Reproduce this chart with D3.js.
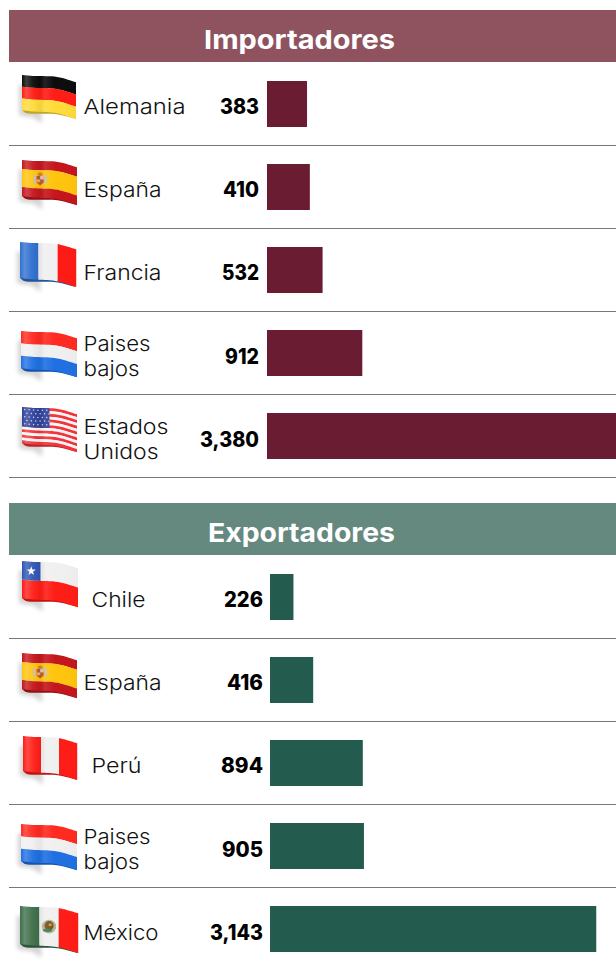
<!DOCTYPE html>
<html><head><meta charset="utf-8">
<script src="https://cdn.jsdelivr.net/npm/d3@7"></script>
<style>html,body{margin:0;padding:0;background:#fff}svg{display:block}</style>
</head><body><div id="c"></div>
<script>
// ---- data ----
const importTitle = "Importadores";
const importCountries = [["Alemania"],["España"],["Francia"],["Paises","bajos"],["Estados","Unidos"]];
const importValues = [383,410,532,912,3380];
const importLabels = ["383","410","532","912","3,380"];
const importFlags = ["de","es","fr","nl","us"];

const exportTitle = "Exportadores";
const exportCountries = [["Chile"],["España"],["Perú"],["Paises","bajos"],["México"]];
const exportValues = [226,416,894,905,3143];
const exportLabels = ["226","416","894","905","3,143"];
const exportFlags = ["cl","es","pe","nl","mx"];

// ---- layout ----
const W=616,H=965,LEFT=9,HDR=52,STEP=83,BARH=46,BAROFF=19;
const FONT="Inter, 'Open Sans', sans-serif";
// rendered widths of the strings in the reference's wide typeface
const textWidths={"Importadores":191,"Exportadores":187,"Alemania":102,"España":78,"Francia":78,"Paises":67,"bajos":56,
  "Estados":85,"Unidos":75,"Chile":54,"Perú":50,"México":75,
  "383":39,"410":36,"532":37,"912":34,"3,380":59,"226":39,"416":36,"894":42,"905":41,"3,143":53};
const importLayout={top:10,color:"#8f5360",bar:"#691c32",x0:267,k:.1045,valueX:259,labelX:[83.5,83.5,83.5,83.5,83.5],valueDy:[0,0,0,1,1],
  flagBox:[[22,75,54,35],[22,160,55,36],[20,242,56,36],[21,331,56,37],[22,407,55,36]]};
const exportLayout={top:503,color:"#65897f",bar:"#235b4e",x0:270,k:.1038,valueX:263,labelX:[91.5,83.5,91.5,83.5,83.5],valueDy:[0,0,0,1,1],
  flagBox:[[22,561,56,37],[22,653,55,36],[23,736,54,35],[21,824,56,37],[20,906,58,38]]};

const flagDefs={
  de:{o:"h",s:[["#0c0c0c",1],["#ff1d16",1],["#ffdb3a",1]]},
  es:{o:"h",s:[["#c4161c",1],["#ffc40d",2],["#c4161c",1]],emblem:1},
  fr:{o:"v",s:[["#2f70cf",1],["#f0f0f0",1.05],["#ff1a14",1]]},
  nl:{o:"h",s:[["#ff2a20",1],["#f0f0f0",1],["#1f70e2",1]]},
  us:{o:"h",s:d3.range(13).map(i=>[i%2?"#f6f6f6":"#f4333a",1]),canton:["#2f4199",.5,.54],stars:true},
  cl:{o:"h",s:[["#f0f0f0",1],["#ff1d16",1]],canton:["#2f55b4",.33,.5],star:true},
  pe:{o:"v",s:[["#ff1d16",1],["#f0f0f0",1],["#ff1d16",1]]},
  mx:{o:"v",s:[["#3e6f4a",1],["#f0f0f0",1],["#ff1d16",1]],emblem:2}
};

const svg=d3.select("#c").append("svg").attr("width",W).attr("height",H).attr("viewBox",[0,0,W,H]);
const defs=svg.append("defs");
defs.append("filter").attr("id","blur").attr("x","-30%").attr("y","-30%").attr("width","160%").attr("height","160%")
  .append("feGaussianBlur").attr("stdDeviation",2);
const sheen=defs.append("linearGradient").attr("id","sheen");
[[0,"#fff",.0],[.08,"#fff",.2],[.2,"#fff",.05],[.32,"#000",.04],[.42,"#fff",.1],[.6,"#fff",0],[1,"#000",.02]]
 .forEach(s=>sheen.append("stop").attr("offset",s[0]).attr("stop-color",s[1]).attr("stop-opacity",s[2]));

function edge(u){return -1.6*Math.sin(u*Math.PI*1.15) + u*6 + 0.8*Math.sin(u*Math.PI*2.2)}
function pt(b,u,v){return [b[0]+u*b[2], b[1]+edge(u)+v*b[3]*(1+.05*u)];}
function region(b,u0,u1,v0,v1){
  const us=d3.range(0,21).map(i=>u0+(u1-u0)*i/20);
  return d3.line()(us.map(u=>pt(b,u,v0)).concat(us.slice().reverse().map(u=>pt(b,u,v1))))+"Z";
}
function drawFlag(g,code,b){
  const f=flagDefs[code];
  const [x,y,w,h]=b;
  g.append("path").attr("d",region([x-3,y+9,w*.42,h-4],0,1,0,1)).attr("fill","#000").attr("opacity",.17).attr("filter","url(#blur)");
  // curled lower fold, thick at the left and vanishing to the right
  const last=f.o==="h"?f.s[f.s.length-1][0]:f.s[0][0];
  const us=d3.range(0,21).map(i=>.01+.98*i/20);
  const foldTop=us.map(u=>pt(b,u,.94));
  const foldBot=us.slice().reverse().map(u=>{const p=pt(b,u,1);return [p[0],p[1]+3*Math.pow(1-u,.9)*Math.min(1,u*14)];});
  g.append("path").attr("d",d3.line()(foldTop.concat(foldBot))+"Z").attr("fill",d3.color(last).darker(.8));
  const tot=d3.sum(f.s,d=>d[1]); let acc=0;
  f.s.forEach(s=>{
    const a=acc/tot,e=(acc+s[1])/tot; acc+=s[1];
    g.append("path").attr("d",f.o==="h"?region(b,0,1,a,e+.004):region(b,a,e+.004,0,1)).attr("fill",s[0]);
  });
  if(f.canton) g.append("path").attr("d",region(b,0,f.canton[1],0,f.canton[2])).attr("fill",f.canton[0]);
  if(f.stars){ d3.range(5).forEach(r=>d3.range(6).forEach(c=>{
      const u=.05+c*.08+(r%2?.04:0),v=.06+r*.1;
      g.append("circle").attr("cx",x+u*w).attr("cy",y+edge(u)+v*h).attr("r",.75).attr("fill","#cfd8f5");}));}
  if(f.star){ g.append("path").attr("d",d3.symbol(d3.symbolStar,26)()).attr("fill","#fff")
      .attr("transform",`translate(${x+.165*w},${y+edge(.165)+.25*h})`);}
  if(f.emblem===1){ // Spanish crest
      const [cx,cy]=pt(b,.33,.5);
      [-5.5,5.5].forEach(d=>g.append("rect").attr("x",cx+d-1.2).attr("y",cy-4.5).attr("width",2.4).attr("height",9).attr("fill","#c9bfb0"));
      g.append("ellipse").attr("cx",cx).attr("cy",cy-5).attr("rx",2.6).attr("ry",1.8).attr("fill","#d8862a");
      g.append("path").attr("d",d3.line()([[cx-3.6,cy-3.4],[cx+3.6,cy-3.4],[cx+3.6,cy+3],[cx,cy+6],[cx-3.6,cy+3]])+"Z").attr("fill","#c8552c");
      g.append("rect").attr("x",cx).attr("y",cy-3.4).attr("width",3.6).attr("height",3.4).attr("fill","#d8c9c4");
      g.append("rect").attr("x",cx-3.6).attr("y",cy).attr("width",3.6).attr("height",2.8).attr("fill","#e0b25a");
  }
  if(f.emblem===2){ // Mexican crest
      const [cx,cy]=pt(b,.5,.5);
      g.append("ellipse").attr("cx",cx).attr("cy",cy).attr("rx",7.2).attr("ry",6.8).attr("fill","#b3b58c");
      g.append("ellipse").attr("cx",cx).attr("cy",cy-1).attr("rx",4.6).attr("ry",4.6).attr("fill","#7a4f22");
      g.append("ellipse").attr("cx",cx-1.5).attr("cy",cy+3.6).attr("rx",4.6).attr("ry",1.7).attr("fill","#3f7a55");
      g.append("ellipse").attr("cx",cx+1.2).attr("cy",cy-2).attr("rx",1.7).attr("ry",1.5).attr("fill","#c99a3e");
  }
  g.append("path").attr("d",region(b,0,1,0,1)).attr("fill","url(#sheen)");
}

function panel(title,countries,values,labels,flags,L){
  const g=svg.append("g");
  g.append("rect").attr("x",LEFT).attr("y",L.top).attr("width",W-LEFT).attr("height",HDR).attr("fill",L.color);
  g.append("text").attr("x",L.top<100?299.5:301.5).attr("y",L.top+39).attr("text-anchor","middle").attr("fill","#fff")
    .attr("font-family",FONT).attr("font-weight",700).attr("font-size",26).attr("class","st").text(title);
  const xs=d3.scaleLinear().domain([0,d3.max(values)]).range([L.x0,L.x0+d3.max(values)*L.k]);
  const ys=d3.scaleLinear().domain([0,1]).range([L.top+HDR+BAROFF,L.top+HDR+BAROFF+STEP]);
  const rows=g.selectAll("g.r").data(d3.range(values.length)).join("g").attr("class","r");
  rows.append("rect").attr("x",L.x0).attr("y",i=>ys(i)).attr("height",BARH)
    .attr("width",i=>xs(values[i])-L.x0).attr("fill",L.bar);
  rows.filter(i=>i<values.length-1||L.top<100).append("line").attr("x1",LEFT).attr("x2",W)
    .attr("y1",i=>ys(i)+64.5).attr("y2",i=>ys(i)+64.5).attr("stroke","#777").attr("stroke-width",1);
  rows.append("text").attr("x",L.valueX).attr("y",i=>ys(i)+33+L.valueDy[i]).attr("text-anchor","end")
    .attr("font-family",FONT).attr("font-weight",800).attr("font-size",21).attr("fill","#000").attr("class","st").text(i=>labels[i]);
  rows.each(function(i){
    const r=d3.select(this),c=countries[i];
    drawFlag(r.append("g"),flags[i],L.flagBox[i]);
    c.forEach((t,j)=>{
      const base=c.length===1?ys(i)+33+(L.top>100&&i===4?1:0):ys(i)+21+25*j;
      r.append("text").attr("x",L.labelX[i]).attr("y",base).attr("font-family",FONT).attr("font-weight",300)
       .attr("font-size",20.5).attr("fill","#111").attr("class","st").text(t);
    });
  });
}
panel(importTitle,importCountries,importValues,importLabels,importFlags,importLayout);
panel(exportTitle,exportCountries,exportValues,exportLabels,exportFlags,exportLayout);
svg.selectAll("text.st").each(function(){this.setAttribute("textLength",textWidths[this.textContent]);this.setAttribute("lengthAdjust","spacingAndGlyphs");});
</script></body></html>
